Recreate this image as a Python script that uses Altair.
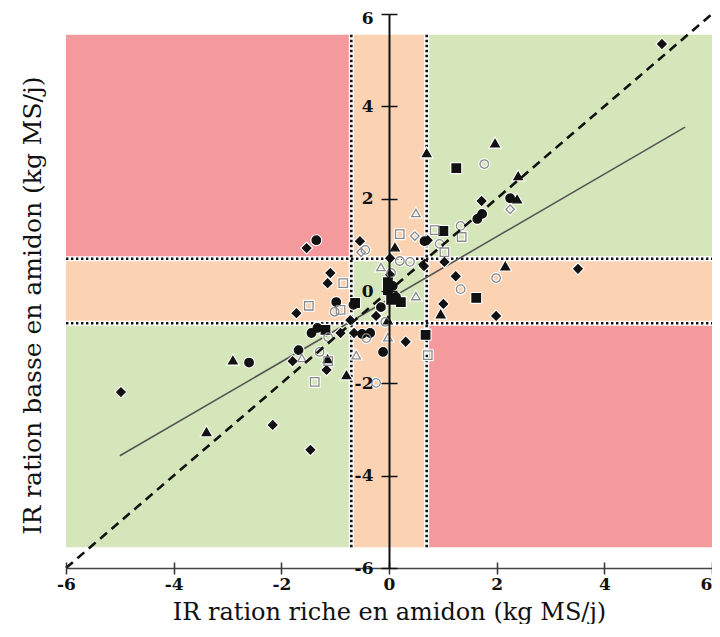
import altair as alt
import pandas as pd

# ---- data ----
ticks = [-6, -4, -2, 0, 2, 4, 6]

# zone grid boundaries and colours (rows bottom->top, cols left->right)
x_edges = [-6, -0.7, 0.7, 6]
y_edges = [-5.55, -0.7, 0.7, 5.55]
zone_rows = [["vert", "orange", "rouge"],
             ["orange", "vert", "orange"],
             ["rouge", "orange", "vert"]]

# filled diamonds
fd_x = [5.07, -4.98, -2.16, -1.46, 3.51, 1.72, 0.72, 1.03, 1.24, 1.01, 1.99, 0.02, -0.54, -1.53,
        -1.09, -1.14, -1.72, -0.72, -0.24, 0.31, -0.65, -1.79, -1.16, 0.65, 0.02, -0.90]
fd_y = [5.35, -2.19, -2.90, -3.44, 0.48, 1.95, 1.10, 0.63, 0.32, -0.28, -0.54, 0.71, 1.08, 0.93,
        0.39, 0.17, -0.48, -0.63, -0.54, -1.10, -0.91, -1.52, -1.71, 0.54, 0.35, -0.91]
# filled circles
fc_x = [-2.6, -1.35, 2.25, 1.64, 1.73, -0.98, -1.44, -1.33, -1.68, -0.66, -0.15, 0.07, 0.13,
        -0.50, -0.35, -0.11, 0.66]
fc_y = [-1.55, 1.10, 2.01, 1.56, 1.67, -0.24, -0.91, -0.80, -1.28, -0.30, -0.35, 0.11, -0.13,
        -0.93, -0.91, -1.32, 1.08]
# filled squares
fs_x = [1.25, 1.01, 1.62, 0.68, -0.02, -0.02, 0.22, 0.04, -0.63, -1.18]
fs_y = [2.66, 1.30, -0.15, -0.95, 0.19, 0.02, -0.24, -0.19, -0.26, -0.84]
# filled triangles
ft_x = [-3.39, -2.9, 0.70, 1.97, 2.40, 2.38, 0.11, 2.16, 0.96, -0.02, -1.14, -0.79]
ft_y = [-3.05, -1.5, 2.99, 3.20, 2.49, 1.99, 0.95, 0.54, -0.50, -0.63, -1.47, -1.82]
# open circles
oc_x = [1.77, 1.33, 0.94, 1.99, 1.33, 0.20, 0.39, -0.44, 0.04, -1.01, -1.13, -0.42, -1.29, -0.24, -0.07]
oc_y = [2.75, 1.41, 1.02, 0.28, 0.04, 0.65, 0.63, 0.89, 0.39, -0.45, -1.00, -1.02, -1.32, -1.99, -0.67]
# open squares
os_x = [0.85, 1.35, 1.03, 0.20, -0.85, -1.49, -0.90, 0.72, -1.13, -1.38]
os_y = [1.32, 1.17, 0.84, 1.23, 0.17, -0.32, -0.41, -1.39, -1.52, -1.97]
# open diamonds
od_x = [2.25, 0.48, -0.52]
od_y = [1.77, 1.19, 0.84]
# open triangles
ot_x = [0.50, -0.15, 0.50, -0.02, -0.61, -1.62]
ot_y = [1.69, 0.52, -0.11, -1.00, -1.39, -1.45]

# regression line and identity line
reg_x = [-5.0, 5.5]
reg_y = [-3.57, 3.55]
id_x = [-6, 6]
id_y = [-6, 6]

# ---- tables ----
rects = []
for r in range(3):
    for c in range(3):
        rects.append(dict(x0=x_edges[c], x1=x_edges[c + 1], y0=y_edges[r], y1=y_edges[r + 1],
                          zone=zone_rows[r][c]))
rects = pd.DataFrame(rects)

series = {"fc": (fc_x, fc_y), "fs": (fs_x, fs_y), "fd": (fd_x, fd_y), "ft": (ft_x, ft_y),
          "oc": (oc_x, oc_y), "os": (os_x, os_y), "od": (od_x, od_y), "ot": (ot_x, ot_y)}
rows = []
for k, (xs_, ys_) in series.items():
    for a, b in zip(xs_, ys_):
        rows.append(dict(x=a, y=b, type=k))
pts = pd.DataFrame(rows)

vlines = pd.DataFrame(dict(x=[x_edges[1], x_edges[2]], y0=[y_edges[0]] * 2, y1=[y_edges[3]] * 2))
hlines = pd.DataFrame(dict(y=[y_edges[1], y_edges[2]], x0=[x_edges[0]] * 2, x1=[x_edges[3]] * 2))
reg = pd.DataFrame(dict(x=reg_x, y=reg_y))
ident = pd.DataFrame(dict(x=id_x, y=id_y))

# ---- scales / axes ----
W, H = 646, 554
xs = alt.Scale(domain=[-6, 6], nice=False, zero=False)
ys = alt.Scale(domain=[-6, 6], nice=False, zero=False)
SERIF = "DejaVu Serif"

x_axis = alt.Axis(orient="bottom", values=ticks, labelExpr="'' + datum.value", grid=False,
                  tickSize=6, tickWidth=1.5, tickColor="#333333", domainColor="#444444",
                  domainWidth=1.5, labelFont=SERIF, labelFontWeight="bold", labelFontSize=17,
                  labelColor="#111111", labelPadding=2, labelFlush=False,
                  labelOffset={"condition": {"test": "datum.value == 6", "value": -6}, "value": 0},
                  title="IR ration riche en amidon (kg MS/j)", titleFont=SERIF,
                  titleFontSize=24, titleFontWeight="normal", titleColor="#111111",
                  titleY=51, titleBaseline="alphabetic", zindex=1)
y_axis = alt.Axis(orient="left", offset=-W / 2, values=ticks, labelExpr="'' + datum.value",
                  grid=False, tickSize=8, tickWidth=1.5, tickColor="#111111",
                  domainColor="#111111", domainWidth=2, labelFont=SERIF, labelFontWeight="bold",
                  labelFontSize=17, labelColor="#111111", labelPadding=8, labelFlush=False,
                  labelOffset={"condition": {"test": "datum.value == 6", "value": 4}, "value": 0},
                  title="IR ration basse en amidon (kg MS/j)", titleFont=SERIF,
                  titleFontSize=25, titleFontWeight="normal", titleColor="#111111",
                  titleX=-(W / 2 + 34), titleY=291, titleAlign="center",
                  titleBaseline="middle", titleAngle=270, zindex=1)
x_axis2 = alt.Axis(orient="top", offset=-H, values=ticks, labels=False, domain=False,
                   grid=False, tickSize=6, tickWidth=1.5, tickColor="#333333", title=None,
                   zindex=1)
y_axis2 = alt.Axis(orient="right", offset=-W / 2, values=ticks, labels=False, domain=False,
                   grid=False, tickSize=8, tickWidth=1.5, tickColor="#111111", title=None,
                   zindex=1)

bg = alt.Chart(rects).mark_rect(strokeWidth=0).encode(
    x=alt.X("x0:Q", scale=xs, axis=x_axis), x2="x1:Q",
    y=alt.Y("y0:Q", scale=ys, axis=y_axis), y2="y1:Q",
    color=alt.Color("zone:N", legend=None,
                    scale=alt.Scale(domain=["rouge", "orange", "vert"],
                                    range=["#f4999c", "#fbd3b3", "#d6e6bb"])))

vl_w = alt.Chart(vlines).mark_rule(color="white", strokeWidth=5).encode(
    x=alt.X("x:Q", scale=xs, axis=None), y=alt.Y("y0:Q", scale=ys, axis=None), y2="y1:Q")
vl_d = alt.Chart(vlines).mark_rule(color="#111111", strokeWidth=2.6, strokeDash=[2.4, 2.6]).encode(
    x=alt.X("x:Q", scale=xs, axis=None), y=alt.Y("y0:Q", scale=ys, axis=None), y2="y1:Q")
hl_w = alt.Chart(hlines).mark_rule(color="white", strokeWidth=5).encode(
    y=alt.Y("y:Q", scale=ys, axis=None), x=alt.X("x0:Q", scale=xs, axis=None), x2="x1:Q")
hl_d = alt.Chart(hlines).mark_rule(color="#111111", strokeWidth=2.6, strokeDash=[2.4, 2.6]).encode(
    y=alt.Y("y:Q", scale=ys, axis=None), x=alt.X("x0:Q", scale=xs, axis=None), x2="x1:Q")

reg_line = alt.Chart(reg).mark_line(color="#555555", strokeWidth=1.6).encode(
    x=alt.X("x:Q", scale=xs, axis=None), y=alt.Y("y:Q", scale=ys, axis=None))

types = ["fc", "fs", "fd", "ft", "oc", "os", "od", "ot"]
shapes = ["circle", "square", "diamond", "triangle-up"] * 2
fills = ["#111111"] * 4 + ["transparent"] * 4
strokes = ["#111111"] * 4 + ["#8a8a8a"] * 4

halo = alt.Chart(pts).mark_point(size=72, strokeWidth=3.5, stroke="white", filled=False,
                                 opacity=1).encode(
    x=alt.X("x:Q", scale=xs, axis=None), y=alt.Y("y:Q", scale=ys, axis=None),
    shape=alt.Shape("type:N", scale=alt.Scale(domain=types, range=shapes), legend=None))
points = alt.Chart(pts).mark_point(size=72, strokeWidth=1.3, opacity=1).encode(
    x=alt.X("x:Q", scale=xs, axis=None), y=alt.Y("y:Q", scale=ys, axis=None),
    shape=alt.Shape("type:N", scale=alt.Scale(domain=types, range=shapes), legend=None),
    fill=alt.Fill("type:N", scale=alt.Scale(domain=types, range=fills), legend=None),
    stroke=alt.Stroke("type:N", scale=alt.Scale(domain=types, range=strokes), legend=None))

id_line = alt.Chart(ident).mark_line(color="#111111", strokeWidth=2.6, strokeDash=[9, 6]).encode(
    x=alt.X("x:Q", scale=xs, axis=x_axis2), y=alt.Y("y:Q", scale=ys, axis=y_axis2))

chart = alt.layer(bg, vl_w, hl_w, vl_d, hl_d, reg_line, halo, points, id_line).resolve_scale(
    x="independent", y="independent"
).properties(
    width=W, height=H,
    autosize=alt.AutoSizeParams(type="none"),
    padding={"left": 58, "top": 6, "right": 0, "bottom": 56},
    background="white",
).configure_view(stroke=None)

chart.save("out.html", embed_options={"renderer": "svg", "actions": False})
